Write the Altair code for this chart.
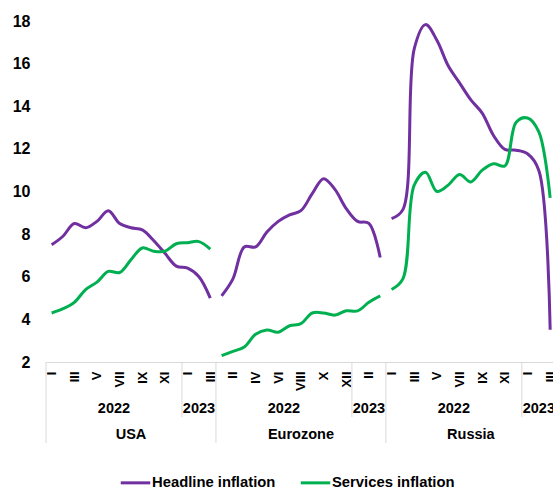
import json

import altair as alt
import pandas as pd

# Regions, months (Jan 2022 - Mar 2023) and year split of each region block
countries = ["USA", "Eurozone", "Russia"]
months = ["I", "II", "III", "IV", "V", "VI", "VII", "VIII", "IX", "X", "XI", "XII",
          "I", "II", "III"]
years = ["2022", "2023"]
months_per_year = [12, 3]
series_names = ["Headline inflation", "Services inflation"]
series_colors = ["#7030A0", "#00B050"]

# Year-on-year inflation, %
usa_headline = [7.5, 7.9, 8.5, 8.3, 8.6, 9.1, 8.5, 8.3, 8.2, 7.7, 7.1, 6.5, 6.4, 6.0, 5.0]
usa_services = [4.3, 4.5, 4.8, 5.4, 5.75, 6.25, 6.2, 6.8, 7.35, 7.2, 7.2, 7.55, 7.6, 7.65, 7.3]
ez_headline = [5.1, 5.9, 7.4, 7.4, 8.1, 8.6, 8.9, 9.1, 9.9, 10.6, 10.1, 9.2, 8.6, 8.5, 6.9]
ez_services = [2.3, 2.5, 2.7, 3.3, 3.5, 3.4, 3.7, 3.8, 4.3, 4.3, 4.2, 4.4, 4.4, 4.8, 5.1]
ru_headline = [8.73, 9.15, 16.69, 17.83, 17.1, 15.9, 15.1, 14.3, 13.68, 12.63, 11.98,
               11.94, 11.77, 10.99, 3.51]
ru_services = [5.4, 5.9, 10.3, 10.9, 10.0, 10.3, 10.8, 10.45, 11.0, 11.3, 11.2, 13.25,
               13.45, 12.8, 9.7]

values = {
    "USA": (usa_headline, usa_services),
    "Eurozone": (ez_headline, ez_services),
    "Russia": (ru_headline, ru_services),
}

n = len(months)
FONT = "Liberation Sans"
W, H = 507, 341

# Long table: one row per region / series / month, x is the running category index
rows = []
for k, c in enumerate(countries):
    for s, vals in zip(series_names, values[c]):
        for m, v in enumerate(vals):
            rows.append({"x": k * n + m, "country": c, "series": s, "value": v})
lines_df = pd.DataFrame(rows)

# Category-axis furniture: separators, year and region labels
group_edges, year_edges, year_labels, country_labels = [], [], [], []
for k, c in enumerate(countries):
    start = k * n
    group_edges.append({"x": start - 0.5})
    offset = 0
    for y, cnt in zip(years, months_per_year):
        if offset > 0:
            year_edges.append({"x": start + offset - 0.5})
        year_labels.append({"x": start + offset + (cnt - 1) / 2, "label": y})
        offset += cnt
    country_labels.append({"x": start + (n - 1) / 2, "label": c})
group_edges.append({"x": len(countries) * n - 0.5})

x_scale = alt.Scale(domain=[-0.5, 44.25], nice=False, zero=False)
x_axis = alt.Axis(
    values=list(range(0, len(countries) * n, 2)),
    labelExpr=f"{json.dumps(months)}[datum.value % {n}]",
    title=None, grid=False, ticks=False,
    domain=True, domainColor="#d9d9d9", domainWidth=1,
    labelAngle=270, labelAlign="right", labelBaseline="middle",
    labelFont=FONT, labelFontSize=13, labelFontWeight="bold", labelColor="#000000",
    labelPadding=9, labelOverlap=False, labelFlush=False, labelBound=False,
)
X = alt.X("x:Q", scale=x_scale, axis=x_axis)

lines = alt.Chart(lines_df).mark_line(strokeWidth=3, interpolate="catmull-rom").encode(
    x=X,
    y=alt.Y(
        "value:Q",
        scale=alt.Scale(domain=[2, 18], nice=False, zero=False),
        axis=alt.Axis(
            values=list(range(2, 19, 2)), title=None, grid=False, ticks=False, domain=False,
            labelFont=FONT, labelFontSize=16, labelFontWeight="bold", labelColor="#000000",
            labelPadding=16,
        ),
    ),
    color=alt.Color(
        "series:N",
        scale=alt.Scale(domain=series_names, range=series_colors),
        legend=alt.Legend(
            title=None, orient="none", direction="horizontal",
            legendX=73, legendY=445, padding=0,
            symbolType="stroke", symbolSize=870, symbolStrokeWidth=3,
            labelFont=FONT, labelFontSize=14.8, labelFontWeight="bold", labelColor="#000000",
            labelOffset=0, columnPadding=18,
        ),
    ),
    detail="country:N",
)

long_rules = alt.Chart(pd.DataFrame(group_edges)).mark_rule(color="#d9d9d9", strokeWidth=1).encode(
    x=X, y=alt.value(H), y2=alt.value(H + 81)
)
short_rules = alt.Chart(pd.DataFrame(year_edges)).mark_rule(color="#d9d9d9", strokeWidth=1).encode(
    x=X, y=alt.value(H), y2=alt.value(H + 55)
)
year_text = alt.Chart(pd.DataFrame(year_labels)).mark_text(
    font=FONT, fontSize=14.5, fontWeight="bold", color="#000000", baseline="middle"
).encode(x=X, y=alt.value(H + 47), text="label:N")
country_text = alt.Chart(pd.DataFrame(country_labels)).mark_text(
    font=FONT, fontSize=14.5, fontWeight="bold", color="#000000", baseline="middle"
).encode(x=X, y=alt.value(H + 73), text="label:N")

chart = alt.layer(long_rules, short_rules, lines, year_text, country_text).properties(
    width=W, height=H,
    autosize=alt.AutoSizeParams(type="none"),
    padding={"left": 46, "top": 21, "right": 0, "bottom": 129},
    background="#ffffff",
).configure_view(stroke=None)

chart.save("out.html", embed_options={"renderer": "svg", "actions": False})
